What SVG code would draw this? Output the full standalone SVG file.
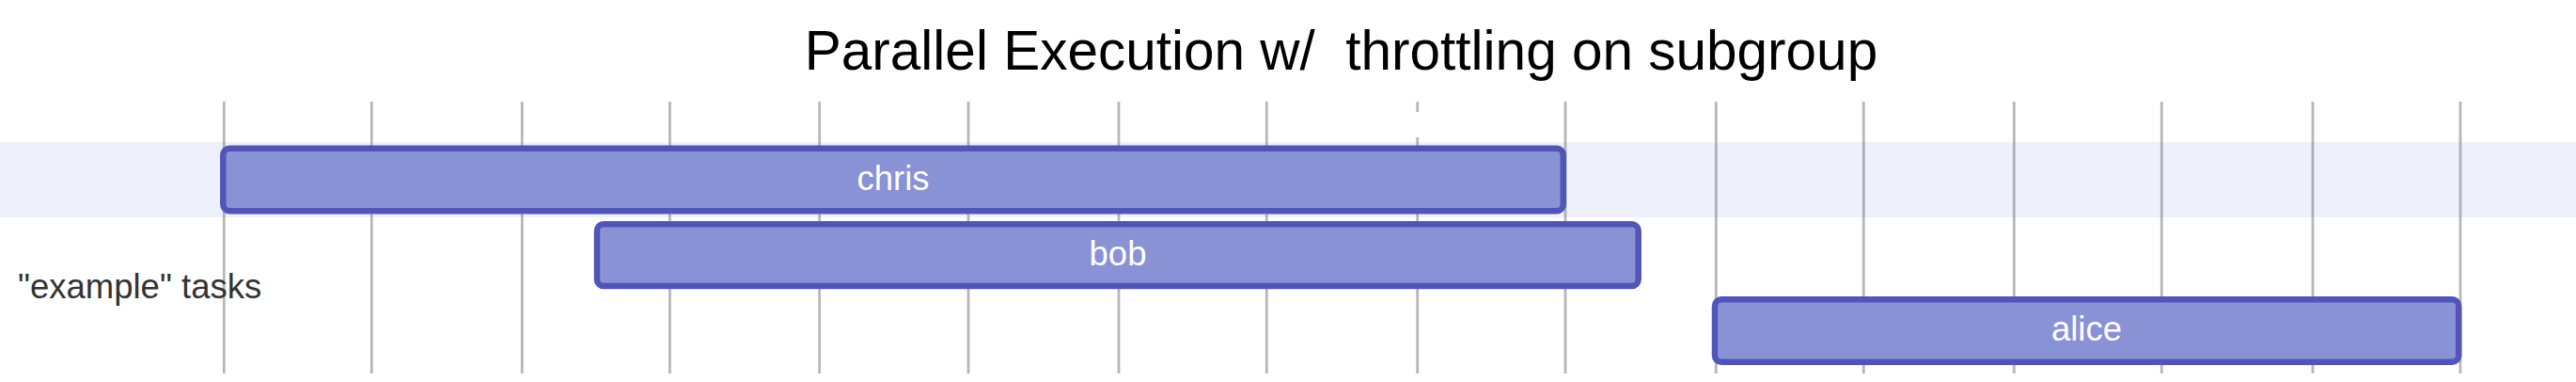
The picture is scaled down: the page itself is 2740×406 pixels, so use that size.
<svg xmlns="http://www.w3.org/2000/svg" width="2740" height="406" viewBox="0 0 2740 406">
  <style>
    .title { font-family: "Liberation Sans", Arial, sans-serif; font-size: 58.5px; fill: #000; white-space: pre; }
    .section { font-family: "Liberation Sans", Arial, sans-serif; font-size: 36.5px; fill: #333; }
    .grid line { stroke: #707070; stroke-opacity: 0.5; stroke-width: 2.8; }
    .band { fill: #eef0fc; }
    .task { fill: #8a92d6; stroke: #5055b7; stroke-width: 6.5; }
    .taskText { font-family: "Liberation Sans", Arial, sans-serif; font-size: 36.5px; fill: #fff; text-anchor: middle; }
  </style>
  <rect width="2740" height="406" fill="#fff"/>
  <g id="section-band">
    <rect class="band" x="0" y="151" width="2740" height="80"/>
  </g>
  <g id="grid" class="grid">
    <line x1="238.3" y1="108" x2="238.3" y2="397"/>
    <line x1="395.3" y1="108" x2="395.3" y2="397"/>
    <line x1="555.3" y1="108" x2="555.3" y2="397"/>
    <line x1="712.5" y1="108" x2="712.5" y2="397"/>
    <line x1="871.7" y1="108" x2="871.7" y2="397"/>
    <line x1="1030" y1="108" x2="1030" y2="397"/>
    <line x1="1190" y1="108" x2="1190" y2="397"/>
    <line x1="1347.3" y1="108" x2="1347.3" y2="397"/>
    <line x1="1507.7" y1="108" x2="1507.7" y2="119"/>
    <line x1="1507.7" y1="146" x2="1507.7" y2="397"/>
    <line x1="1665" y1="108" x2="1665" y2="397"/>
    <line x1="1825.3" y1="108" x2="1825.3" y2="397"/>
    <line x1="1982.3" y1="108" x2="1982.3" y2="397"/>
    <line x1="2142.3" y1="108" x2="2142.3" y2="397"/>
    <line x1="2299.3" y1="108" x2="2299.3" y2="397"/>
    <line x1="2460" y1="108" x2="2460" y2="397"/>
    <line x1="2617" y1="108" x2="2617" y2="397"/>
  </g>
  <text class="title" x="1426.5" y="74" text-anchor="middle" xml:space="preserve">Parallel Execution w/  throttling on subgroup</text>
  <text class="section" x="19" y="317">"example" tasks</text>
  <g id="connectors"></g>
  <g id="task-chris">
    <rect class="task" x="237.3" y="157.8" width="1425.5" height="66.5" rx="7" ry="7"/>
    <text class="taskText" x="950" y="202.3">chris</text>
  </g>
  <g id="task-bob">
    <rect class="task" x="635" y="238.3" width="1107.7" height="65.8" rx="7" ry="7"/>
    <text class="taskText" x="1189" y="281.7">bob</text>
  </g>
  <g id="task-alice">
    <rect class="task" x="1824" y="318.3" width="791.2" height="66.5" rx="7" ry="7"/>
    <text class="taskText" x="2219.5" y="362.3">alice</text>
  </g>
</svg>
